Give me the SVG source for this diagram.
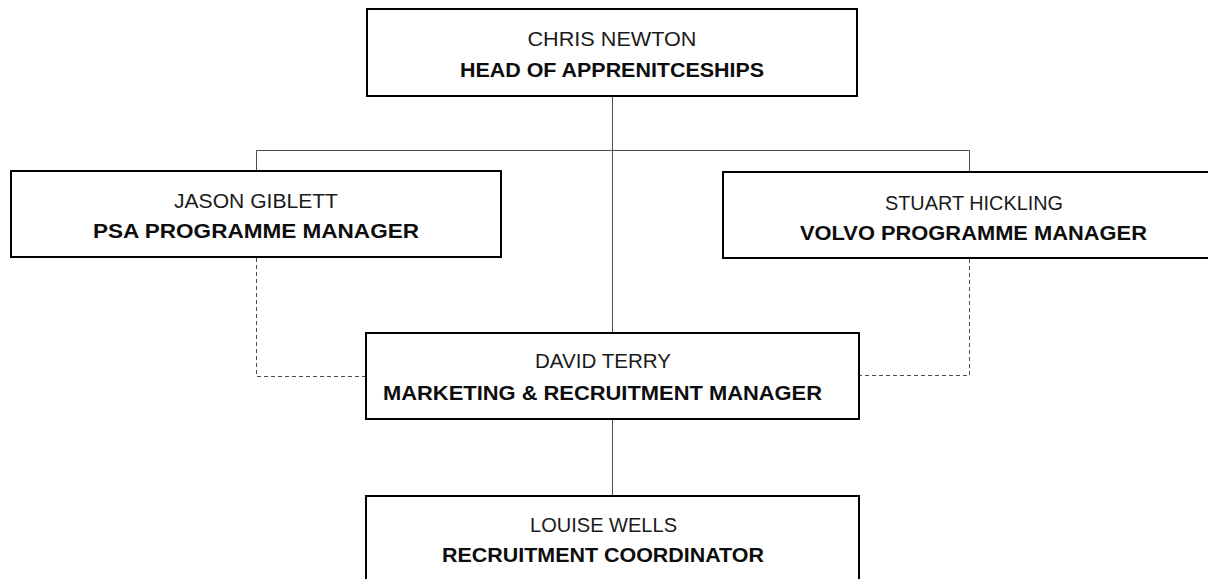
<svg xmlns="http://www.w3.org/2000/svg" width="1208" height="579" viewBox="0 0 1208 579">
<style>
.box{fill:#ffffff;stroke:#000000;stroke-width:2}
.name{font-family:"Liberation Sans",Arial,sans-serif;font-size:20px;fill:#1a1a1a;text-anchor:middle}
.role{font-family:"Liberation Sans",Arial,sans-serif;font-size:20px;font-weight:bold;fill:#0d0d0d;text-anchor:middle}
.solid{fill:none;stroke:#4d4d4d;stroke-width:1}
.dash{fill:none;stroke:#4d4d4d;stroke-width:1;stroke-dasharray:4 3}
</style>
<rect width="1208" height="579" fill="#ffffff"/>
<g id="connectors">
<path class="solid" d="M612.5 96 V333"/>
<path class="solid" d="M256.5 171 V150.5 H969.5 V172"/>
<path class="solid" d="M612.5 419 V496"/>
<path class="dash" d="M256.5 258 V376.5 H366"/>
<path class="dash" d="M969.5 259 V375.5 H859"/>
</g>
<g id="chris-newton">
<rect class="box" x="367" y="9" width="490" height="87"/>
<text class="name" x="612" y="46" textLength="169" lengthAdjust="spacingAndGlyphs">CHRIS NEWTON</text>
<text class="role" x="612" y="77" textLength="304" lengthAdjust="spacingAndGlyphs">HEAD OF APPRENITCESHIPS</text>
</g>
<g id="jason-giblett">
<rect class="box" x="11" y="171" width="490" height="86"/>
<text class="name" x="256" y="208" textLength="164" lengthAdjust="spacingAndGlyphs">JASON GIBLETT</text>
<text class="role" x="256" y="238" textLength="326" lengthAdjust="spacingAndGlyphs">PSA PROGRAMME MANAGER</text>
</g>
<g id="stuart-hickling">
<rect class="box" x="723" y="172" width="490" height="86"/>
<text class="name" x="974" y="210" textLength="178" lengthAdjust="spacingAndGlyphs">STUART HICKLING</text>
<text class="role" x="973.5" y="240" textLength="347" lengthAdjust="spacingAndGlyphs">VOLVO PROGRAMME MANAGER</text>
</g>
<g id="david-terry">
<rect class="box" x="366" y="333" width="493" height="86"/>
<text class="name" x="603" y="368" textLength="136" lengthAdjust="spacingAndGlyphs">DAVID TERRY</text>
<text class="role" x="602.5" y="400" textLength="439" lengthAdjust="spacingAndGlyphs">MARKETING &amp; RECRUITMENT MANAGER</text>
</g>
<g id="louise-wells">
<rect class="box" x="366" y="496" width="493" height="90"/>
<text class="name" x="603.5" y="532" textLength="147" lengthAdjust="spacingAndGlyphs">LOUISE WELLS</text>
<text class="role" x="603" y="562" textLength="322" lengthAdjust="spacingAndGlyphs">RECRUITMENT COORDINATOR</text>
</g>
</svg>
